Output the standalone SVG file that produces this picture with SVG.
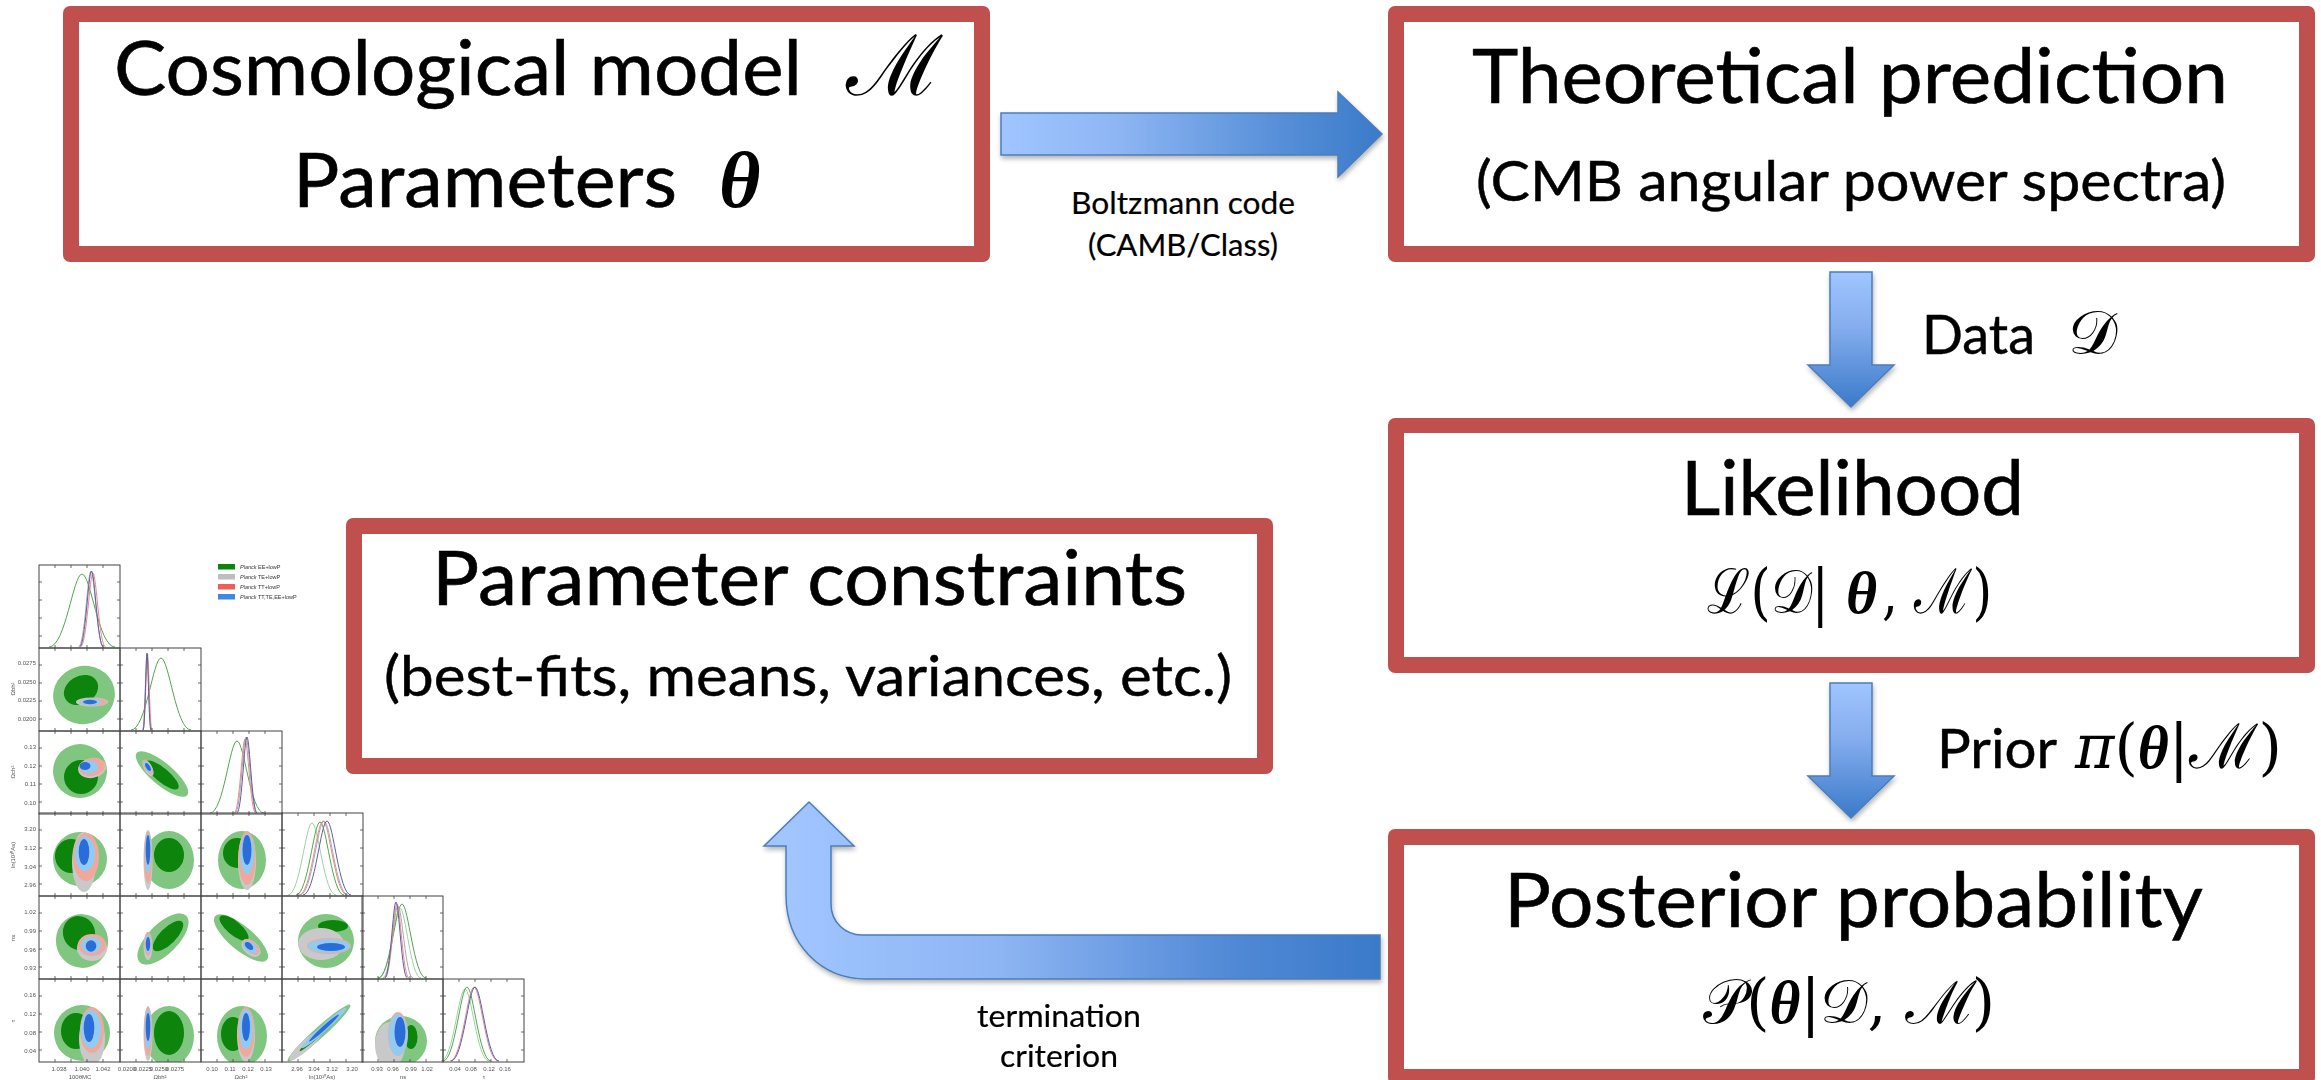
<svg xmlns="http://www.w3.org/2000/svg" xmlns:xlink="http://www.w3.org/1999/xlink" width="2321" height="1080" viewBox="0 0 2321 1080">
<style>
  .frame { fill: #C0504D; }
  .inner { fill: #FFFFFF; }
  .t { font-family: Lato, 'Open Sans', 'Liberation Sans', sans-serif; fill: #000; stroke: #000; }
  .title { font-size: 76px; stroke-width: 0.6px; }
  .sub { font-size: 57px; stroke-width: 0.45px; }
  .lbl { font-size: 54px; stroke-width: 0.45px; }
  .small { font-size: 31px; stroke-width: 0.2px; }
  .m { font-family: 'DejaVu Serif', 'Liberation Serif', serif; fill: #000; }
  .th { font-family: 'Liberation Serif', 'DejaVu Serif', serif; font-style: italic; font-weight: bold; }
  .arrow { stroke: #4A7EBB; stroke-width: 1.5; filter: url(#sh); }
  .g1 { fill: #80C680; } .g2 { fill: #0A850A; } .gy { fill: #C9C9C9; } .r1 { fill: #F2A79C; } .lb { fill: #92CBF2; } .b { fill: #2C6DD8; }
  .c { fill: none; stroke-width: 1; }
  .cg { stroke: #4FA64F; } .cl { stroke: #9ED09E; } .cy { stroke: #A8A8A8; } .cr { stroke: #E58A8A; } .cb { stroke: #5D5DA6; }
  .tk { font-family: 'Liberation Sans', sans-serif; font-size: 6px; fill: #555; }
  .lg { font-family: 'Liberation Sans', sans-serif; font-size: 5.5px; fill: #333; }
</style>
<defs>
  <linearGradient id="gh" x1="0" y1="0" x2="1" y2="0">
    <stop offset="0" stop-color="#A0C5FF"/>
    <stop offset="0.3" stop-color="#8FB6F4"/>
    <stop offset="0.7" stop-color="#5A92DA"/>
    <stop offset="1" stop-color="#3A7AC9"/>
  </linearGradient>
  <linearGradient id="gv" x1="0" y1="0" x2="0" y2="1">
    <stop offset="0" stop-color="#A0C5FF"/>
    <stop offset="0.4" stop-color="#86AEEE"/>
    <stop offset="1" stop-color="#3A7AC9"/>
  </linearGradient>
  <linearGradient id="gl" gradientUnits="userSpaceOnUse" x1="786" y1="0" x2="1380" y2="0">
    <stop offset="0" stop-color="#A0C5FF"/>
    <stop offset="0.35" stop-color="#8FB6F4"/>
    <stop offset="0.75" stop-color="#5189D6"/>
    <stop offset="1" stop-color="#3A7AC9"/>
  </linearGradient>
  <filter id="sh" x="-10%" y="-15%" width="125%" height="140%">
    <feGaussianBlur in="SourceAlpha" stdDeviation="2.5"/>
    <feOffset dx="1" dy="3"/>
    <feComponentTransfer><feFuncA type="linear" slope="0.3"/></feComponentTransfer>
    <feMerge><feMergeNode/><feMergeNode in="SourceGraphic"/></feMerge>
  </filter>
  <filter id="soft"><feGaussianBlur stdDeviation="0.45"/></filter>
  <clipPath id="pc"><rect x="0" y="0" width="81" height="83"/></clipPath>
  <path id="bell" d="M-3,0 C-1.5,0 -0.8,-1 0,-1 C0.8,-1 1.5,0 3,0" vector-effect="non-scaling-stroke"/>
  <g id="fr">
    <rect x="0" y="0" width="81" height="83" fill="none" stroke="#444" stroke-width="1"/>
    <path d="M16,83v-3M32,83v-3M48,83v-3M64,83v-3M16,0v3M32,0v3M48,0v3M64,0v3M0,17h3M0,35h3M0,53h3M0,71h3M81,17h-3M81,35h-3M81,53h-3M81,71h-3" stroke="#444" stroke-width="0.8"/>
  </g>
</defs>

<rect width="2321" height="1080" fill="#FFFFFF"/>

<!-- triangle plot of parameter posteriors -->
<g id="triangle-plot" filter="url(#soft)">
  <!-- 2D panels -->
  <g transform="translate(39,648)" clip-path="url(#pc)">
    <ellipse class="g1" cx="45" cy="47" rx="31" ry="29" transform="rotate(-15 45 47)"/>
    <ellipse class="g2" cx="42" cy="42" rx="18" ry="14" transform="rotate(-30 42 42)"/>
    <ellipse class="gy" cx="53" cy="54" rx="16" ry="4.5"/>
    <ellipse class="r1" cx="54" cy="54" rx="14" ry="4"/>
    <ellipse class="lb" cx="52" cy="54" rx="11" ry="3.2"/>
    <ellipse class="b" cx="51" cy="54" rx="7" ry="2.2"/>
  </g>
  <g transform="translate(39,731)" clip-path="url(#pc)">
    <ellipse class="g1" cx="41" cy="40" rx="27" ry="27" transform="rotate(-10 41 40)"/>
    <ellipse class="g2" cx="42" cy="46" rx="17" ry="17"/>
    <ellipse class="gy" cx="53" cy="37" rx="14" ry="10" transform="rotate(-10 53 37)"/>
    <ellipse class="r1" cx="53" cy="36" rx="13" ry="9" transform="rotate(-10 53 36)"/>
    <ellipse class="lb" cx="50" cy="36" rx="9" ry="6.5"/>
    <ellipse class="b" cx="46" cy="35" rx="5.5" ry="4"/>
  </g>
  <g transform="translate(120,731)" clip-path="url(#pc)">
    <ellipse class="g1" cx="42" cy="43" rx="33" ry="11" transform="rotate(40 42 43)"/>
    <ellipse class="g2" cx="42" cy="44" rx="21" ry="7" transform="rotate(40 42 44)"/>
    <ellipse class="gy" cx="28" cy="37" rx="9" ry="4" transform="rotate(60 28 37)"/>
    <ellipse class="r1" cx="28" cy="36" rx="8" ry="3.6" transform="rotate(60 28 36)"/>
    <ellipse class="lb" cx="28" cy="36" rx="6.5" ry="3" transform="rotate(60 28 36)"/>
    <ellipse class="b" cx="28" cy="36" rx="4.5" ry="2" transform="rotate(60 28 36)"/>
  </g>
  <g transform="translate(39,813)" clip-path="url(#pc)">
    <ellipse class="g1" cx="41" cy="46" rx="27" ry="27"/>
    <ellipse class="g2" cx="32" cy="43" rx="16" ry="17"/>
    <ellipse class="gy" cx="45" cy="49" rx="12" ry="30"/>
    <ellipse class="r1" cx="47" cy="44" rx="13" ry="24"/>
    <ellipse class="lb" cx="46" cy="41" rx="10" ry="17.5"/>
    <ellipse class="b" cx="45" cy="39" rx="5.3" ry="13"/>
  </g>
  <g transform="translate(120,813)" clip-path="url(#pc)">
    <ellipse class="g1" cx="49" cy="47" rx="25" ry="29"/>
    <ellipse class="g2" cx="49" cy="42" rx="15" ry="17"/>
    <ellipse class="gy" cx="28" cy="47" rx="4.5" ry="30"/>
    <ellipse class="r1" cx="28" cy="44" rx="4" ry="26"/>
    <ellipse class="lb" cx="28" cy="40" rx="3.2" ry="20"/>
    <ellipse class="b" cx="28" cy="37" rx="2.3" ry="15"/>
  </g>
  <g transform="translate(201,813)" clip-path="url(#pc)">
    <ellipse class="g1" cx="41" cy="47" rx="24" ry="29"/>
    <ellipse class="g2" cx="36" cy="40" rx="14" ry="15"/>
    <ellipse class="gy" cx="46" cy="48" rx="9" ry="29"/>
    <ellipse class="r1" cx="46" cy="45" rx="8.5" ry="27"/>
    <ellipse class="lb" cx="46" cy="41" rx="7" ry="20"/>
    <ellipse class="b" cx="46" cy="37" rx="4.5" ry="15"/>
  </g>
  <g transform="translate(39,896)" clip-path="url(#pc)">
    <ellipse class="g1" cx="43" cy="45" rx="26" ry="27" transform="rotate(-20 43 45)"/>
    <ellipse class="g2" cx="40" cy="37" rx="16" ry="17" transform="rotate(-20 40 37)"/>
    <ellipse class="gy" cx="53" cy="52" rx="15" ry="13"/>
    <ellipse class="r1" cx="53" cy="49" rx="14" ry="11"/>
    <ellipse class="lb" cx="52" cy="49" rx="10" ry="8"/>
    <ellipse class="b" cx="52" cy="50" rx="5.3" ry="5.8"/>
  </g>
  <g transform="translate(120,896)" clip-path="url(#pc)">
    <ellipse class="g1" cx="43" cy="43" rx="33" ry="15" transform="rotate(-45 43 43)"/>
    <ellipse class="g2" cx="48" cy="40" rx="20" ry="8" transform="rotate(-45 48 40)"/>
    <ellipse class="gy" cx="28" cy="50" rx="4.5" ry="14"/>
    <ellipse class="r1" cx="28" cy="48" rx="3.8" ry="12"/>
    <ellipse class="lb" cx="28" cy="48" rx="3" ry="10"/>
    <ellipse class="b" cx="28" cy="48" rx="2.2" ry="7"/>
  </g>
  <g transform="translate(201,896)" clip-path="url(#pc)">
    <ellipse class="g1" cx="40" cy="42" rx="34" ry="12" transform="rotate(40 40 42)"/>
    <ellipse class="g2" cx="33" cy="32" rx="18" ry="7" transform="rotate(40 33 32)"/>
    <ellipse class="gy" cx="50" cy="52" rx="11" ry="7" transform="rotate(40 50 52)"/>
    <ellipse class="r1" cx="50" cy="51" rx="10" ry="6" transform="rotate(40 50 51)"/>
    <ellipse class="lb" cx="49" cy="51" rx="8" ry="5" transform="rotate(40 49 51)"/>
    <ellipse class="b" cx="48" cy="50" rx="5" ry="3" transform="rotate(40 48 50)"/>
  </g>
  <g transform="translate(282,896)" clip-path="url(#pc)">
    <ellipse class="g1" cx="44" cy="45" rx="28" ry="27"/>
    <ellipse class="g2" cx="51" cy="30" rx="15" ry="6"/>
    <ellipse class="gy" cx="39" cy="48" rx="23" ry="16"/>
    <ellipse class="r1" cx="47" cy="50" rx="22" ry="8"/>
    <ellipse class="lb" cx="47" cy="50" rx="21" ry="7"/>
    <ellipse class="b" cx="49" cy="51" rx="14" ry="4"/>
  </g>
  <g transform="translate(39,979)" clip-path="url(#pc)">
    <ellipse class="g1" cx="43" cy="54" rx="28" ry="28"/>
    <ellipse class="g2" cx="37" cy="52" rx="15" ry="18"/>
    <ellipse class="gy" cx="53" cy="60" rx="13" ry="26"/>
    <ellipse class="r1" cx="53" cy="51" rx="12" ry="23"/>
    <ellipse class="lb" cx="52" cy="50" rx="10" ry="19"/>
    <ellipse class="b" cx="50" cy="49" rx="5.3" ry="14"/>
  </g>
  <g transform="translate(120,979)" clip-path="url(#pc)">
    <ellipse class="g1" cx="49" cy="57" rx="25" ry="30"/>
    <ellipse class="g2" cx="49" cy="54" rx="15" ry="22"/>
    <ellipse class="gy" cx="28" cy="55" rx="4.5" ry="27"/>
    <ellipse class="r1" cx="28" cy="52" rx="4" ry="25"/>
    <ellipse class="lb" cx="28" cy="50" rx="3.2" ry="20"/>
    <ellipse class="b" cx="28" cy="48" rx="2.3" ry="14"/>
  </g>
  <g transform="translate(201,979)" clip-path="url(#pc)">
    <ellipse class="g1" cx="41" cy="57" rx="25" ry="30"/>
    <ellipse class="g2" cx="32" cy="55" rx="12" ry="17"/>
    <ellipse class="gy" cx="45" cy="56" rx="9" ry="27"/>
    <ellipse class="r1" cx="45" cy="53" rx="8.5" ry="25"/>
    <ellipse class="lb" cx="45" cy="50" rx="7" ry="20"/>
    <ellipse class="b" cx="45" cy="48" rx="4" ry="14"/>
  </g>
  <g transform="translate(282,979)" clip-path="url(#pc)">
    <ellipse class="g1" cx="37" cy="54" rx="42" ry="5.5" transform="rotate(-42 37 54)"/>
    <ellipse class="gy" cx="24" cy="66" rx="22" ry="5" transform="rotate(-42 24 66)"/>
    <ellipse class="g2" cx="40" cy="52" rx="30" ry="2.5" transform="rotate(-42 40 52)"/>
    <ellipse class="lb" cx="42" cy="49" rx="30" ry="3.5" transform="rotate(-42 42 49)"/>
    <ellipse class="b" cx="42" cy="49" rx="20" ry="2" transform="rotate(-42 42 49)"/>
  </g>
  <g transform="translate(362,979)" clip-path="url(#pc)">
    <ellipse class="g1" cx="39" cy="62" rx="26" ry="25"/>
    <ellipse class="g2" cx="49" cy="58" rx="6.5" ry="12"/>
    <ellipse class="gy" cx="28" cy="66" rx="15" ry="23"/>
    <ellipse class="r1" cx="36" cy="55" rx="10" ry="22"/>
    <ellipse class="lb" cx="36" cy="56" rx="9.5" ry="21"/>
    <ellipse class="b" cx="38" cy="53" rx="5.5" ry="15"/>
  </g>

  <!-- 1D marginals on the diagonal -->
  <g class="c">
    <use href="#bell" class="cg" transform="translate(82,647) scale(11,73)"/>
    <use href="#bell" class="cy" transform="translate(91,647) scale(4.2,76)"/>
    <use href="#bell" class="cr" transform="translate(93,647) scale(4.2,74)"/>
    <use href="#bell" class="cb" transform="translate(91.5,647) scale(4,76)"/>

    <use href="#bell" class="cg" transform="translate(161,730) scale(10,72)"/>
    <use href="#bell" class="cy" transform="translate(147,730) scale(1.5,76)"/>
    <use href="#bell" class="cr" transform="translate(147.5,730) scale(1.5,76)"/>
    <use href="#bell" class="cb" transform="translate(147,730) scale(1.3,77)"/>

    <use href="#bell" class="cg" transform="translate(237,813) scale(9,72)"/>
    <use href="#bell" class="cy" transform="translate(246,813) scale(3.6,76)"/>
    <use href="#bell" class="cr" transform="translate(245,813) scale(3.6,74)"/>
    <use href="#bell" class="cb" transform="translate(247,813) scale(3.4,76)"/>

    <use href="#bell" class="cl" transform="translate(312,895) scale(8,72)"/>
    <use href="#bell" class="cg" transform="translate(320,895) scale(8,73)"/>
    <use href="#bell" class="cr" transform="translate(323,895) scale(8,74)"/>
    <use href="#bell" class="cy" transform="translate(324,895) scale(8,74)"/>
    <use href="#bell" class="cb" transform="translate(327,895) scale(8,74)"/>

    <use href="#bell" class="cl" transform="translate(400,978) scale(7,70)"/>
    <use href="#bell" class="cg" transform="translate(402,978) scale(8,74)"/>
    <use href="#bell" class="cy" transform="translate(398,978) scale(5,72)"/>
    <use href="#bell" class="cr" transform="translate(397,978) scale(4,74)"/>
    <use href="#bell" class="cb" transform="translate(396,978) scale(3.8,76)"/>

    <use href="#bell" class="cl" transform="translate(465,1061) scale(8,72)"/>
    <use href="#bell" class="cg" transform="translate(467,1061) scale(8,74)"/>
    <use href="#bell" class="cr" transform="translate(474,1061) scale(8,74)"/>
    <use href="#bell" class="cb" transform="translate(475,1061) scale(8,74)"/>
  </g>

  <!-- panel frames -->
  <use href="#fr" x="39" y="565"/>
  <use href="#fr" x="39" y="648"/><use href="#fr" x="120" y="648"/>
  <use href="#fr" x="39" y="731"/><use href="#fr" x="120" y="731"/><use href="#fr" x="201" y="731"/>
  <use href="#fr" x="39" y="813"/><use href="#fr" x="120" y="813"/><use href="#fr" x="201" y="813"/><use href="#fr" x="282" y="813"/>
  <use href="#fr" x="39" y="896"/><use href="#fr" x="120" y="896"/><use href="#fr" x="201" y="896"/><use href="#fr" x="282" y="896"/><use href="#fr" x="362" y="896"/>
  <use href="#fr" x="39" y="979"/><use href="#fr" x="120" y="979"/><use href="#fr" x="201" y="979"/><use href="#fr" x="282" y="979"/><use href="#fr" x="362" y="979"/><use href="#fr" x="443" y="979"/>

  <!-- legend -->
  <rect x="218" y="564" width="17" height="5.5" fill="#0A850A"/>
  <rect x="218" y="574" width="17" height="5.5" fill="#BDBDBD"/>
  <rect x="218" y="584" width="17" height="5.5" fill="#EE5F55"/>
  <rect x="218" y="594" width="17" height="5.5" fill="#3C88E2"/>
  <text class="lg" x="240" y="569"><tspan font-style="italic">Planck</tspan> EE+lowP</text>
  <text class="lg" x="240" y="579"><tspan font-style="italic">Planck</tspan> TE+lowP</text>
  <text class="lg" x="240" y="589"><tspan font-style="italic">Planck</tspan> TT+lowP</text>
  <text class="lg" x="240" y="599"><tspan font-style="italic">Planck</tspan> TT,TE,EE+lowP</text>

  <!-- y tick labels -->
  <g class="tk" text-anchor="end">
    <text x="36" y="665">0.0275</text><text x="36" y="684">0.0250</text><text x="36" y="702">0.0225</text><text x="36" y="721">0.0200</text>
    <text x="36" y="749">0.13</text><text x="36" y="768">0.12</text><text x="36" y="786">0.11</text><text x="36" y="805">0.10</text>
    <text x="36" y="831">3.20</text><text x="36" y="850">3.12</text><text x="36" y="869">3.04</text><text x="36" y="887">2.96</text>
    <text x="36" y="914">1.02</text><text x="36" y="933">0.99</text><text x="36" y="952">0.96</text><text x="36" y="970">0.93</text>
    <text x="36" y="997">0.16</text><text x="36" y="1016">0.12</text><text x="36" y="1035">0.08</text><text x="36" y="1053">0.04</text>
  </g>
  <g class="tk" text-anchor="middle">
    <text transform="translate(15,689) rotate(-90)">Ωbh²</text>
    <text transform="translate(15,772) rotate(-90)">Ωch²</text>
    <text transform="translate(15,855) rotate(-90)">ln(10¹⁰As)</text>
    <text transform="translate(15,938) rotate(-90)">ns</text>
    <text transform="translate(15,1021) rotate(-90)">τ</text>
  </g>
  <!-- x tick labels -->
  <g class="tk" text-anchor="middle">
    <text x="59" y="1071">1.038</text><text x="82" y="1071">1.040</text><text x="103" y="1071">1.042</text>
    <text x="127" y="1071">0.0200</text><text x="143" y="1071">0.0225</text><text x="159" y="1071">0.0250</text><text x="175" y="1071">0.0275</text>
    <text x="212" y="1071">0.10</text><text x="230" y="1071">0.11</text><text x="248" y="1071">0.12</text><text x="266" y="1071">0.13</text>
    <text x="297" y="1071">2.96</text><text x="314" y="1071">3.04</text><text x="332" y="1071">3.12</text><text x="352" y="1071">3.20</text>
    <text x="377" y="1071">0.93</text><text x="393" y="1071">0.96</text><text x="411" y="1071">0.99</text><text x="427" y="1071">1.02</text>
    <text x="455" y="1071">0.04</text><text x="471" y="1071">0.08</text><text x="489" y="1071">0.12</text><text x="505" y="1071">0.16</text>
    <text x="80" y="1079">100θMC</text><text x="160" y="1079">Ωbh²</text><text x="241" y="1079">Ωch²</text>
    <text x="322" y="1079">ln(10¹⁰As)</text><text x="403" y="1079">ns</text><text x="484" y="1079">τ</text>
  </g>
</g>

<!-- connectors -->
<g id="connectors">
  <g id="edge-model-theory">
    <path class="arrow" fill="url(#gh)" d="M1001,113 H1338 V92 L1382,134 L1338,177 V155 H1001 Z"/>
    <text class="t small" x="1183" y="214" text-anchor="middle" textLength="224" lengthAdjust="spacingAndGlyphs">Boltzmann code</text>
    <text class="t small" x="1183" y="256" text-anchor="middle" textLength="190" lengthAdjust="spacingAndGlyphs">(CAMB/Class)</text>
  </g>
  <g id="edge-theory-likelihood">
    <path class="arrow" fill="url(#gv)" d="M1830,272 H1872 V365 H1894 L1851,407 L1808,365 H1830 Z"/>
    <text class="t lbl" x="1922" y="354" textLength="113" lengthAdjust="spacingAndGlyphs">Data</text>
    <text class="m" x="2068" y="354" font-size="62">𝒟</text>
  </g>
  <g id="edge-likelihood-posterior">
    <path class="arrow" fill="url(#gv)" d="M1830,683 H1872 V776 H1894 L1851,818 L1808,776 H1830 Z"/>
    <text class="t lbl" x="1937" y="768" textLength="120" lengthAdjust="spacingAndGlyphs">Prior</text>
    <text class="m" x="2075" y="768" font-size="62" textLength="207" lengthAdjust="spacingAndGlyphs"><tspan font-style="italic">π</tspan>(<tspan class="th">θ</tspan>|ℳ)</text>
  </g>
  <g id="edge-posterior-constraints">
    <path class="arrow" fill="url(#gl)" d="M1380,935 H862 C845,935 831,922 831,904 V846 H854 L809,802 L764,846 H786 V895 C786,945 822,979 866,979 H1380 Z"/>
    <text class="t small" x="1059" y="1027" text-anchor="middle" textLength="164" lengthAdjust="spacingAndGlyphs">termination</text>
    <text class="t small" x="1059" y="1067" text-anchor="middle" textLength="118" lengthAdjust="spacingAndGlyphs">criterion</text>
  </g>
</g>

<!-- nodes -->
<g id="node-model">
  <rect class="frame" x="63" y="6" width="927" height="256" rx="7"/>
  <rect class="inner" x="79" y="22" width="895" height="224"/>
  <text class="t title" x="114" y="95" textLength="688" lengthAdjust="spacingAndGlyphs">Cosmological model</text>
  <text class="m" x="846" y="95" font-size="84">ℳ</text>
  <text class="t title" x="293" y="207" textLength="384" lengthAdjust="spacingAndGlyphs">Parameters</text>
  <text class="m th" x="719" y="207" font-size="80">θ</text>
</g>

<g id="node-theory">
  <rect class="frame" x="1388" y="6" width="927" height="256" rx="7"/>
  <rect class="inner" x="1404" y="22" width="895" height="224"/>
  <text class="t title" x="1472" y="103" textLength="756" lengthAdjust="spacingAndGlyphs">Theoretical prediction</text>
  <text class="t sub" x="1476" y="201" textLength="750" lengthAdjust="spacingAndGlyphs">(CMB angular power spectra)</text>
</g>

<g id="node-likelihood">
  <rect class="frame" x="1388" y="418" width="927" height="255" rx="7"/>
  <rect class="inner" x="1404" y="433" width="895" height="224"/>
  <text class="t title" x="1681" y="515" textLength="343" lengthAdjust="spacingAndGlyphs">Likelihood</text>
  <text class="m" x="1707" y="613" font-size="62" textLength="122" lengthAdjust="spacingAndGlyphs">ℒ(𝒟|</text>
  <text class="m th" x="1846" y="613" font-size="60">θ</text>
  <text class="m" x="1882" y="613" font-size="62" textLength="110" lengthAdjust="spacingAndGlyphs">, ℳ)</text>
</g>

<g id="node-posterior">
  <rect class="frame" x="1388" y="829" width="927" height="256" rx="7"/>
  <rect class="inner" x="1404" y="845" width="895" height="224"/>
  <text class="t title" x="1504" y="927" textLength="699" lengthAdjust="spacingAndGlyphs">Posterior probability</text>
  <text class="m" x="1703" y="1023" font-size="62" textLength="292" lengthAdjust="spacingAndGlyphs">𝒫(<tspan class="th">θ</tspan>|𝒟, ℳ)</text>
</g>

<g id="node-constraints">
  <rect class="frame" x="346" y="518" width="927" height="256" rx="7"/>
  <rect class="inner" x="362" y="534" width="895" height="224"/>
  <text class="t title" x="432" y="605" textLength="755" lengthAdjust="spacingAndGlyphs">Parameter constraints</text>
  <text class="t sub" x="384" y="696" textLength="848" lengthAdjust="spacingAndGlyphs">(best-fits, means, variances, etc.)</text>
</g>
</svg>
